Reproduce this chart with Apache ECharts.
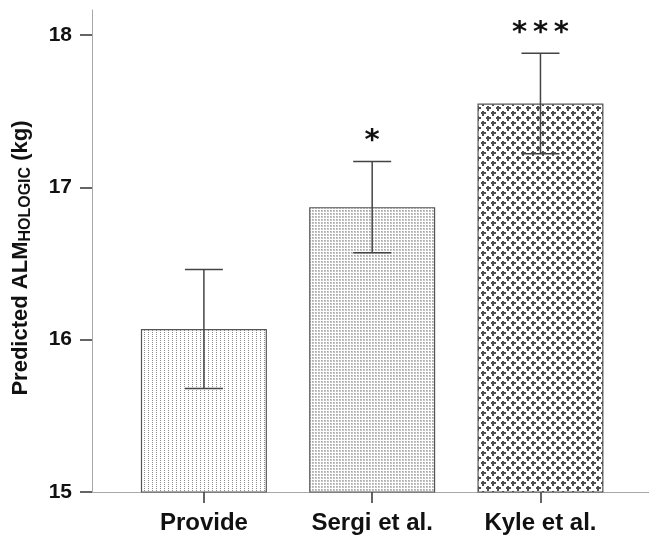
<!DOCTYPE html>
<html>
<head>
<meta charset="utf-8">
<script src="https://cdn.jsdelivr.net/npm/echarts@6/dist/echarts.min.js"></script>
<style>
  html, body { margin: 0; padding: 0; background: #fff; }
  #chart { width: 649px; height: 540px; }
</style>
</head>
<body>
<div id="chart"></div>
<script>
// Predicted appendicular lean mass by equation
const categories = ['Provide', 'Sergi et al.', 'Kyle et al.'];
const meanValues = [16.07, 16.87, 17.55];
const errLow = [15.68, 16.57, 17.22];
const errHigh = [16.46, 17.17, 17.88];
const sigMarks = ['', '*', '*\u2009*\u2009*'];
const yTicks = [15, 16, 17, 18];

const FONT = 'Liberation Sans, Arial, sans-serif';

// Fill patterns for the three bars, painted onto small tiles
function tile(size, paint) {
  const c = document.createElement('canvas');
  c.width = size; c.height = size;
  const ctx = c.getContext('2d');
  ctx.fillStyle = '#fff';
  ctx.fillRect(0, 0, size, size);
  paint(ctx, size);
  return { image: c, repeat: 'repeat' };
}
const dottedColumns = tile(4, (ctx) => {
  ctx.fillStyle = '#8e8e8e';
  ctx.fillRect(0, 0, 1, 1);
  ctx.fillRect(0, 2, 1, 1);
});
const stipple = tile(3, (ctx) => {
  ctx.fillStyle = '#c4c4c4';
  ctx.fillRect(0, 0, 2, 2);
  ctx.fillStyle = '#a8a8a8';
  ctx.fillRect(0, 0, 1, 1);
});
const crosses = tile(10, (ctx, s) => {
  ctx.fillStyle = '#4e4e4e';
  const centres = [[3, 3], [8, 8]];
  for (const [cx, cy] of centres) {
    for (const ox of [-s, 0, s]) {
      for (const oy of [-s, 0, s]) {
        ctx.fillRect(cx + ox - 1, cy + oy - 2, 2, 5);
        ctx.fillRect(cx + ox - 2, cy + oy - 1, 5, 2);
      }
    }
  }
});
const barFills = [dottedColumns, stipple, crosses];

const chart = echarts.init(document.getElementById('chart'), null, { renderer: 'canvas' });

const barData = meanValues.map((v, i) => ({
  value: [i + 1, v],
  itemStyle: { color: barFills[i] }
}));
const errData = categories.map((c, i) => [i + 1, errLow[i], errHigh[i]]);

chart.setOption({
  animation: false,
  backgroundColor: '#fff',
  grid: { left: 92, right: 0, top: 10, bottom: 48 },
  xAxis: {
    type: 'value',
    min: 0.335,
    max: 3.645,
    splitLine: { show: false },
    axisLine: { show: true, lineStyle: { color: '#a8a8a8', width: 1 } },
    axisTick: { show: true, customValues: [1, 2, 3], length: 11, lineStyle: { color: '#333', width: 1.5 } },
    axisLabel: {
      customValues: [1, 2, 3],
      formatter: (v) => categories[Math.round(v) - 1] || '',
      margin: 19,
      color: '#111',
      fontFamily: FONT,
      fontWeight: 'bold',
      fontSize: 24
    }
  },
  yAxis: {
    type: 'value',
    min: 15,
    max: 18.164,
    splitLine: { show: false },
    axisLine: { show: true, lineStyle: { color: '#a8a8a8', width: 1 } },
    axisTick: { show: true, customValues: yTicks, length: 12, inside: false, lineStyle: { color: '#333', width: 1.5 } },
    axisLabel: {
      customValues: yTicks,
      margin: 20,
      color: '#111',
      fontFamily: FONT,
      fontWeight: 'bold',
      fontSize: 21
    },
    name: '{a|Predicted ALM}{s|HOLOGIC}{a| (kg)}',
    nameLocation: 'middle',
    nameRotate: 90,
    nameGap: 58,
    nameTextStyle: {
      padding: [0, 14, 0, 0],
      rich: {
        a: { fontFamily: FONT, fontWeight: 'bold', fontSize: 22, color: '#111', lineHeight: 26 },
        s: { fontFamily: FONT, fontWeight: 'bold', fontSize: 16, color: '#111', lineHeight: 16, verticalAlign: 'bottom' }
      }
    }
  },
  series: [
    {
      type: 'bar',
      barWidth: 126,
      data: barData,
      itemStyle: { borderColor: '#555', borderWidth: 1.2 },
      z: 2
    },
    {
      type: 'custom',
      data: errData,
      z: 3,
      renderItem: (params, api) => {
        const x = api.value(0);
        const lo = api.coord([x, api.value(1)]);
        const hi = api.coord([x, api.value(2)]);
        const half = 19;
        const lineStyle = { stroke: '#444', lineWidth: 1.5 };
        const children = [
          { type: 'line', shape: { x1: hi[0], y1: hi[1], x2: lo[0], y2: lo[1] }, style: lineStyle },
          { type: 'line', shape: { x1: hi[0] - half, y1: hi[1], x2: hi[0] + half, y2: hi[1] }, style: lineStyle },
          { type: 'line', shape: { x1: lo[0] - half, y1: lo[1], x2: lo[0] + half, y2: lo[1] }, style: lineStyle }
        ];
        const mark = sigMarks[params.dataIndex];
        if (mark) {
          children.push({
            type: 'text',
            style: {
              text: mark,
              x: hi[0],
              y: hi[1] - 20,
              align: 'center',
              verticalAlign: 'middle',
              fontFamily: 'DejaVu Sans, sans-serif',
              fontWeight: 'bold',
              fontSize: 29,
              fill: '#111'
            }
          });
        }
        return { type: 'group', children };
      }
    }
  ]
});
</script>
</body>
</html>
